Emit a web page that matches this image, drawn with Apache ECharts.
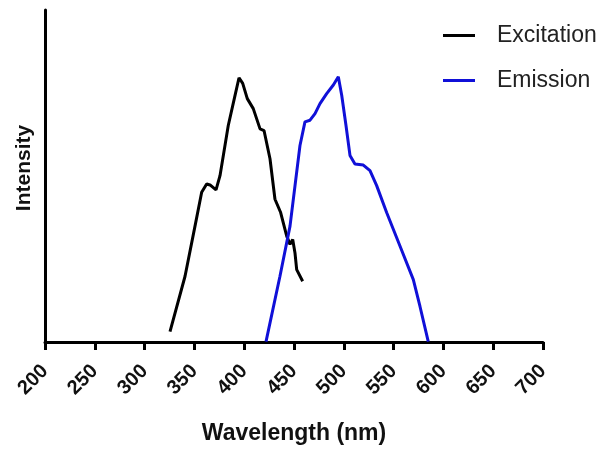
<!DOCTYPE html>
<html>
<head>
<meta charset="utf-8">
<script src="https://cdn.jsdelivr.net/npm/echarts@6/dist/echarts.min.js"></script>
<style>
  html, body { margin: 0; padding: 0; background: #fff; }
  #chart { width: 615px; height: 450px; }
</style>
</head>
<body>
<div id="chart"></div>
<script>
// wavelength (nm) / relative intensity
var excitationX = [325.5, 340.6, 350.6, 357.3, 362.3, 365.7, 371.7, 375.7, 384, 390.8, 394.8, 398.5, 403.1, 409.1, 415.9, 419.9, 425.9, 430.9, 436.6, 442.7, 446, 448.7, 451, 452.7, 458.7];
var excitationY = [3.1, 19.8, 34.9, 45.1, 47.6, 47.3, 45.8, 50.1, 65.2, 74.3, 79.6, 77.9, 73.3, 70.3, 64.2, 63.7, 55.2, 43, 39, 31.9, 29.4, 30.9, 26.8, 21.8, 18.3];

var emissionX = [421.9, 435.9, 446, 456, 461, 466.1, 471.1, 476.1, 482.8, 489.5, 494.5, 497.9, 502.2, 506.2, 511.2, 519.6, 526.3, 533, 543, 556.4, 569.8, 576.5, 584.8];
var emissionY = [0.1, 19.8, 34.9, 59.2, 66.3, 66.8, 68.8, 71.8, 74.8, 77.4, 79.9, 74.3, 65.2, 56.2, 53.6, 53.3, 51.6, 47.1, 39, 28.9, 18.8, 10.7, 0.1];

var seriesNames = ['Excitation', 'Emission'];

function pairs(xs, ys) {
  return xs.map(function (x, i) { return [x, ys[i]]; });
}

var chart = echarts.init(document.getElementById('chart'));
chart.setOption({
  animation: false,
  textStyle: { fontFamily: 'Liberation Sans, Arial, sans-serif' },
  grid: { left: 45, right: 72, top: 10, bottom: 108, outerBoundsMode: 'none' },
  legend: {
    left: 443,
    top: 24,
    padding: 0,
    orient: 'vertical',
    itemGap: 22,
    itemWidth: 32,
    itemHeight: 3,
    icon: 'rect',
    textStyle: { fontSize: 23, color: '#222', padding: [0, 0, 0, 17] },
    data: seriesNames
  },
  xAxis: {
    type: 'value',
    min: 200,
    max: 700,
    interval: 50,
    name: 'Wavelength (nm)',
    nameLocation: 'middle',
    nameGap: 80,
    nameTextStyle: { fontSize: 23, fontWeight: 'bold', color: '#111' },
    axisLine: { lineStyle: { color: '#000', width: 3 } },
    axisTick: { length: 8, lineStyle: { color: '#000', width: 3 } },
    axisLabel: { rotate: 45, fontSize: 20, fontWeight: 'bold', color: '#111', margin: 26 },
    splitLine: { show: false }
  },
  yAxis: {
    type: 'value',
    min: 0,
    max: 100,
    name: 'Intensity',
    nameLocation: 'middle',
    nameGap: 10,
    nameTextStyle: { fontSize: 21, fontWeight: 'bold', color: '#111', padding: [0, 0, 0, 16] },
    axisLine: { show: true, lineStyle: { color: '#000', width: 3 } },
    axisTick: { show: false },
    axisLabel: { show: false },
    splitLine: { show: false }
  },
  series: [
    {
      name: seriesNames[0],
      type: 'line',
      showSymbol: false,
      color: '#000',
      lineStyle: { width: 3 },
      data: pairs(excitationX, excitationY)
    },
    {
      name: seriesNames[1],
      type: 'line',
      showSymbol: false,
      color: '#1010d8',
      lineStyle: { width: 3 },
      data: pairs(emissionX, emissionY)
    }
  ]
});
</script>
</body>
</html>
